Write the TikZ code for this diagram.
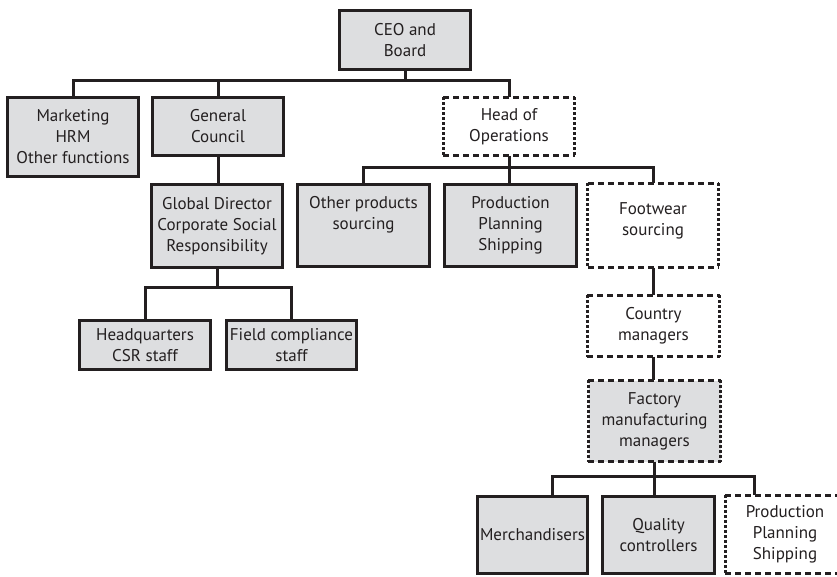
\documentclass[tikz,border=0pt]{standalone}
\usepackage{fontspec}
\setmainfont{PT Sans}
\usetikzlibrary{calc}
\definecolor{boxfill}{RGB}{221,222,224}
\definecolor{ink}{RGB}{35,31,32}

\tikzset{
  txt/.style={align=center, inner sep=0pt, text=ink, font=\fontsize{17}{21}\selectfont},
  unit/.style={txt, draw=ink, line width=3pt, fill=boxfill},
  openunit/.style={txt, draw=none, fill=white},
  greyopenunit/.style={txt, draw=none, fill=boxfill},
  wh/.style 2 args={minimum width=#1pt, minimum height=#2pt},
  link/.style={draw=ink, line width=3pt},
  hdash/.style={draw=ink, line width=2.7pt, dash pattern=on 6pt off 4pt},
  vdot/.style={draw=ink, line width=3.2pt, dash pattern=on 2.6pt off 2.4pt},
}
% dashed top/bottom, dotted sides
\newcommand\opsframe[1]{%
  \draw[hdash] (#1.north west) -- (#1.north east) (#1.south west) -- (#1.south east);
  \draw[vdot] (#1.north west) -- (#1.south west) (#1.north east) -- (#1.south east);}

\begin{document}
\begin{tikzpicture}[x=1pt, y=-1pt]
\clip (0,0) rectangle (837,576);
\fill[white] (0,0) rectangle (837,576);

% top level
\node[unit, wh={131}{59}] (ceo) at (405,40) {CEO and\\Board};

% second level
\node[unit, wh={131}{79}] (mkt) at (73,137) {Marketing\\HRM\\Other functions};
\node[unit, wh={131}{58}] (gc) at (218,126.5) {General\\Council};
\node[openunit, wh={131}{58}] (hoo) at (509,126.5) {Head of\\Operations};

% CSR branch
\node[unit, wh={131}{83}] (gd) at (217,226) {Global Director\\Corporate Social\\Responsibility};
\node[unit, wh={131}{49}] (hq) at (145,345) {Headquarters\\CSR staff};
\node[unit, wh={130}{49}] (fc) at (291.5,345) {Field compliance\\staff};

% operations branch
\node[unit, wh={132}{82}] (op) at (363.5,225.5) {};
\node[txt] (optext) at ($(op.center)+(0,-10.5)$) {Other products\\sourcing};
\node[unit, wh={132}{82}] (pps) at (510.5,225.5) {Production\\Planning\\Shipping};
\node[openunit, wh={130}{84}] (fw) at (653,225.5) {};
\node[txt] (fwtext) at ($(fw.center)+(0,-4.5)$) {Footwear\\sourcing};
\node[openunit, wh={132}{61}] (cm) at (653.5,326) {Country\\managers};
\node[greyopenunit, wh={132}{81}] (fac) at (654.5,421) {Factory\\manufacturing\\managers};

% factory level
\node[unit, wh={110}{77}] (mer) at (532.5,535) {Merchandisers};
\node[unit, wh={112}{77}] (qc) at (658.5,535) {Quality\\controllers};
\node[openunit, wh={119}{78}] (pp2) at (785,534.5) {Production\\Planning\\Shipping};

\opsframe{hoo}
\opsframe{fw}
\opsframe{cm}
\opsframe{fac}
\opsframe{pp2}

% connectors
\coordinate (j1) at (ceo.south |- 0,80);
\draw[link] (ceo.south) -- (j1);
\draw[link] (mkt.north) |- (j1) -| (hoo.north);
\draw[link] (gc.north) -- (gc.north |- j1);

\draw[link] (gc.south) -- (gc.south |- gd.north);

\coordinate (j2) at ($(gd.south)+(0,18)$);
\draw[link] (gd.south) -- (j2);
\draw[link] (hq.north) |- (j2) -| (fc.north);

\coordinate (j3) at ($(hoo.south)+(0,12)$);
\draw[link] (hoo.south) -- (j3);
\draw[link] (op.north) |- (j3) -| (fw.north);
\draw[link] (j3) -- (j3 |- pps.north);

\draw[link] (fw.south) -- (fw.south |- cm.north);
\draw[link] (cm.south) -- (cm.south |- fac.north);

\coordinate (j4) at ($(fac.south)+(0,15)$);
\draw[link] (fac.south) -- (j4);
\draw[link] ([xshift=19.5pt]mer.north) |- (j4) -| ([xshift=-31pt]pp2.north);
\draw[link] (j4) -- (j4 |- qc.north);
\end{tikzpicture}
\end{document}
